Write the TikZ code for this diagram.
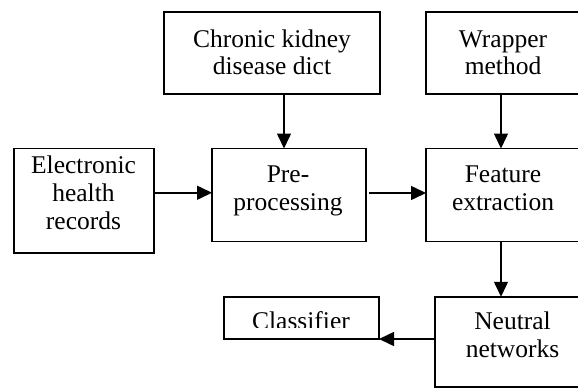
\documentclass[tikz,border=0pt]{standalone}
\usepackage{fontspec}
\setmainfont{Liberation Serif}
\usetikzlibrary{arrows.meta,calc}
\begin{document}
\begin{tikzpicture}[x=1pt,y=-1pt]
\tikzset{
 box/.style={draw, line width=1.8pt, inner sep=0pt, outer sep=0pt},
 txt/.style={anchor=base, inner sep=0pt, font=\fontsize{25.5}{27.5}\selectfont},
 arr/.style={line width=1.5pt, -{Triangle[length=15pt,width=14pt]}}
}
\clip (0,0) rectangle (578,388);
% boxes
\node[box,minimum width=216pt,minimum height=82.6pt] (ckd) at (272,53) {};
\node[box,minimum width=154pt,minimum height=82.6pt] (wrap) at (503,53) {};
\node[box,minimum width=140pt,minimum height=104.5pt] (ehr) at (84,200.75) {};
\node[box,minimum width=154pt,minimum height=93pt] (pre) at (289,195) {};
\node[box,minimum width=154pt,minimum height=93pt] (feat) at (503,195) {};
\node[box,minimum width=155pt,minimum height=42pt] (cls) at (301.5,318) {};
\node[box,minimum width=155pt,minimum height=90.5pt] (neut) at (512.5,342) {};
% texts
\node[txt] (ckdA) at (272,47) {Chronic kidney};
\node[txt] (ckdB) at (272,74) {disease dict};
\node[txt] (wrapA) at (503,47) {Wrapper};
\node[txt] (wrapB) at (503,74) {method};
\node[txt] (ehrA) at (83.5,173.3) {Electronic};
\node[txt] (ehrB) at (83.5,201.3) {health};
\node[txt] (ehrC) at (83.5,229.3) {records};
\node[txt] (preA) at (288,182.7) {Pre-};
\node[txt] (preB) at (288,210) {processing};
\node[txt] (featA) at (503,182) {Feature};
\node[txt] (featB) at (503,210) {extraction};
\node[txt] (neutA) at (512.5,329.5) {Neutral};
\node[txt] (neutB) at (512.5,357) {networks};
\begin{scope}
\clip (224,297) rectangle (380,327);
\node[txt] (clsA) at (301,329.5) {Classifier};
\end{scope}
% connectors
\draw[arr] ([xshift=12pt]ckd.south) -- ([xshift=12pt]ckd.south |- pre.north);
\draw[arr] ([xshift=-2pt]wrap.south) -- ([xshift=-2pt]wrap.south |- feat.north);
\draw[arr] ([yshift=8pt]ehr.east) -- ([yshift=8pt]ehr.east -| pre.west);
\draw[arr] ([xshift=3pt,yshift=2pt]pre.east) -- ([yshift=2pt]feat.west);
\draw[arr] ([xshift=-2pt]feat.south) -- ([xshift=-2pt]feat.south |- neut.north);
\draw[arr] (cls.south east -| neut.west) -- (cls.south east);
\end{tikzpicture}
\end{document}
